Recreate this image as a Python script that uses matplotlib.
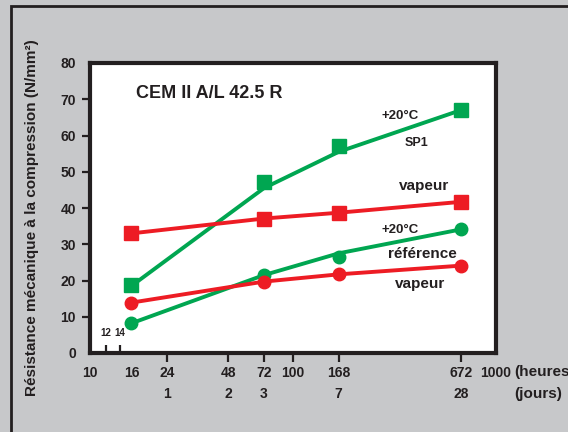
import matplotlib.pyplot as plt
from matplotlib.patches import Rectangle
from matplotlib import transforms

# data (hours, N/mm2)
heures = [16, 72, 168, 672]
sp1_20 = [18.8, 47.3, 57.2, 67.0]
sp1_20_courbe = [18.5, 45.5, 55.5, 67.0]
sp1_vapeur = [33.0, 37.1, 38.7, 41.7]
ref_20 = [8.2, 21.5, 26.6, 34.1]
ref_20_courbe = [8.2, 21.5, 27.5, 34.1]
ref_vapeur = [13.9, 19.7, 21.7, 24.1]

x_ticks = [10, 16, 24, 48, 72, 100, 168, 672, 1000]
jours_pos = [24, 48, 72, 168, 672]
jours_lab = ['1', '2', '3', '7', '28']
petits_ticks = [12, 14]

VERT = '#00a651'
ROUGE = '#ed1c24'
INK = '#231f20'
FOND = '#c7c8ca'

plt.rcParams['font.family'] = ['Liberation Sans Narrow', 'Liberation Sans', 'DejaVu Sans']
plt.rcParams['font.weight'] = 'bold'

fig = plt.figure(figsize=(5.68, 4.32), dpi=100, facecolor=FOND)
fig.patches.append(Rectangle((11 / 568, -0.1), 1.0, 1 - 6 / 432 + 0.1,
                             transform=fig.transFigure, fill=False,
                             edgecolor=INK, linewidth=2))

ax = fig.add_axes([90 / 568, 79 / 432, 406 / 568, 290 / 432])
ax.set_facecolor('white')
ax.set_xscale('log')
ax.set_xlim(10, 1000)
ax.set_ylim(0, 80)

for s in ax.spines.values():
    s.set_linewidth(3)
    s.set_color(INK)

# lines
ax.plot(heures, sp1_20_courbe, color=VERT, lw=2.8, zorder=3)
ax.plot(heures, sp1_20, 's', color=VERT, ms=9.5, zorder=4)
ax.plot(heures, sp1_vapeur, color=ROUGE, lw=2.8, zorder=3)
ax.plot(heures, sp1_vapeur, 's', color=ROUGE, ms=9.5, zorder=4)
ax.plot(heures, ref_20_courbe, color=VERT, lw=2.8, zorder=3)
ax.plot(heures, ref_20, 'o', color=VERT, ms=9, zorder=4)
ax.plot(heures, ref_vapeur, color=ROUGE, lw=2.8, zorder=3)
ax.plot(heures, ref_vapeur, 'o', color=ROUGE, ms=9, zorder=4)

# x axis
ax.set_xticks(x_ticks)
ax.set_xticklabels([str(v) for v in x_ticks])
ax.xaxis.set_minor_locator(plt.FixedLocator(petits_ticks))
ax.xaxis.set_minor_formatter(plt.NullFormatter())
ax.tick_params(axis='x', which='major', direction='out', length=6.5, width=1.6,
               color=INK, labelsize=10, labelcolor=INK, pad=3)
ax.tick_params(axis='x', which='minor', direction='in', length=6, width=1.6,
               color=INK)
for t, v in zip(ax.xaxis.get_major_ticks(), x_ticks):
    if v in (10, 16, 1000):
        t.tick1line.set_visible(False)
for v in petits_ticks:
    ax.text(v, 5.6, str(v), fontsize=7, color=INK, ha='center', va='center')

trans = transforms.blended_transform_factory(ax.transData, ax.transAxes)
for p, lab in zip(jours_pos, jours_lab):
    ax.text(p, -0.14, lab, transform=trans, fontsize=10, color=INK,
            ha='center', va='center')
ax.text(1.044, -0.065, '(heures)', transform=ax.transAxes, fontsize=11,
        color=INK, ha='left', va='center')
ax.text(1.044, -0.14, '(jours)', transform=ax.transAxes, fontsize=11,
        color=INK, ha='left', va='center')

# y axis
ax.set_yticks(range(0, 81, 10))
ax.tick_params(axis='y', direction='out', length=6, width=1.6, color=INK,
               labelsize=10, labelcolor=INK, pad=4)
for t, v in zip(ax.yaxis.get_major_ticks(), range(0, 81, 10)):
    if v in (0, 80):
        t.tick1line.set_visible(False)
fig.text(32 / 568, 1 - 218 / 432, 'Résistance mécanique à la compression (N/mm²)',
         rotation=90, fontsize=11, color=INK, ha='center', va='center')

# annotations
ax.text(0.113, 0.895, 'CEM II A/L 42.5 R', transform=ax.transAxes, fontsize=13,
        color=INK, ha='left', va='center')
ax.text(400 / 568, 1 - 116 / 432, '+20°C', transform=fig.transFigure,
        fontsize=9.5, color=INK, ha='center', va='center')
ax.text(417 / 568, 1 - 143 / 432, 'SP1', transform=fig.transFigure,
        fontsize=9, color=INK, ha='center', va='center')
ax.text(424 / 568, 1 - 186 / 432, 'vapeur', transform=fig.transFigure,
        fontsize=11, color=INK, ha='center', va='center')
ax.text(400 / 568, 1 - 230 / 432, '+20°C', transform=fig.transFigure,
        fontsize=9.5, color=INK, ha='center', va='center')
ax.text(422 / 568, 1 - 254 / 432, 'référence', transform=fig.transFigure,
        fontsize=11, color=INK, ha='center', va='center')
ax.text(420 / 568, 1 - 284 / 432, 'vapeur', transform=fig.transFigure,
        fontsize=11, color=INK, ha='center', va='center')

fig.savefig('out.png', dpi=100, facecolor=FOND)
